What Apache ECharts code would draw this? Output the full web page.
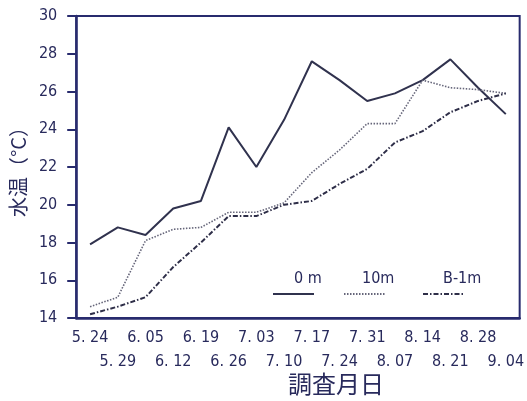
<!DOCTYPE html>
<html>
<head>
<meta charset="utf-8">
<script src="https://cdn.jsdelivr.net/npm/echarts@6/dist/echarts.min.js"></script>
<style>
  html, body { margin: 0; padding: 0; background: #ffffff; }
  #chart { width: 527px; height: 401px; }
</style>
</head>
<body>
<div id="chart"></div>
<script>
// Survey dates (month.day)
const dates = ['5. 24', '5. 29', '6. 05', '6. 12', '6. 19', '6. 26', '7. 03', '7. 10',
               '7. 17', '7. 24', '7. 31', '8. 07', '8. 14', '8. 21', '8. 28', '9. 04'];

// Water temperature (°C) by depth
const temp0m  = [17.9, 18.8, 18.4, 19.8, 20.2, 24.1, 22.0, 24.5, 27.6, 26.6, 25.5, 25.9, 26.6, 27.7, 26.2, 24.8];
const temp10m = [14.6, 15.1, 18.1, 18.7, 18.8, 19.6, 19.6, 20.1, 21.7, 22.9, 24.3, 24.3, 26.6, 26.2, 26.1, 25.9];
const tempB1m = [14.2, 14.6, 15.1, 16.7, 18.0, 19.4, 19.4, 20.0, 20.2, 21.1, 21.9, 23.3, 23.9, 24.9, 25.5, 25.9];

// Y-axis ticks
const yMin = 14, yMax = 30, yStep = 2;

const seriesNames = ['0 m', '10m', 'B-1m'];

const navy = '#282b6e';
const textColor = '#282a5c';
const font = "'Liberation Sans Narrow', 'DejaVu Sans Condensed', 'Liberation Sans', sans-serif";

const chart = echarts.init(document.getElementById('chart'), null, { renderer: 'canvas' });

const lineStyles = [
  { color: '#30324e', width: 2, type: 'solid' },
  { color: '#66667a', width: 1.6, type: [1.5, 1.5] },
  { color: '#2e2e48', width: 2, type: [5, 2, 1.5, 2] }
];

// Legend drawn as label above a short line sample
const legendItems = [
  { cx: 294, x1: 273, x2: 314 },
  { cx: 362, x1: 344, x2: 385 },
  { cx: 443, x1: 423, x2: 463 }
];
const legendGraphics = [];
legendItems.forEach((it, i) => {
  legendGraphics.push({
    type: 'text', left: it.cx, top: 271,
    style: { text: seriesNames[i], fill: textColor, font: '16px ' + font, textAlign: 'center' }
  });
  legendGraphics.push({
    type: 'line',
    shape: { x1: it.x1, y1: 294, x2: it.x2, y2: 294 },
    style: { stroke: lineStyles[i].color, lineWidth: 2, lineDash: i === 0 ? null : lineStyles[i].type }
  });
});

chart.setOption({
  animation: false,
  backgroundColor: '#ffffff',
  grid: {
    left: 76, right: 4, top: 16, bottom: 83,
    show: true, borderColor: navy, borderWidth: 2, backgroundColor: 'transparent'
  },
  xAxis: {
    type: 'category',
    data: dates,
    boundaryGap: true,
    axisLine: { lineStyle: { color: navy, width: 2.5 } },
    axisTick: { alignWithLabel: true, length: 7, lineStyle: { color: navy, width: 2 } },
    axisLabel: {
      interval: 0,
      color: textColor,
      fontFamily: font,
      fontSize: 16,
      lineHeight: 24,
      margin: 8,
      formatter: (v, i) => (i % 2 === 1 ? '\n' + v : v)
    },
    splitLine: { show: false }
  },
  yAxis: {
    type: 'value',
    min: yMin, max: yMax, interval: yStep,
    axisLine: { show: true, lineStyle: { color: navy, width: 2.5 } },
    axisTick: { show: true, length: 9, lineStyle: { color: navy, width: 2 } },
    axisLabel: { color: textColor, fontFamily: font, fontSize: 16, margin: 19 },
    splitLine: { show: false },
    name: '水温（°C）',
    nameLocation: 'middle',
    nameRotate: 90,
    nameGap: 46,
    nameTextStyle: { color: textColor, fontSize: 20, fontFamily: "'Noto Sans CJK JP', sans-serif" }
  },
  graphic: [
    {
      type: 'text', left: 288, top: 372,
      style: { text: '調査月日', fill: textColor, font: "24px 'Noto Sans CJK JP', sans-serif", textAlign: 'center' }
    }
  ].concat(legendGraphics),
  series: [temp0m, temp10m, tempB1m].map((d, i) => ({
    name: seriesNames[i],
    type: 'line',
    data: d,
    symbol: 'none',
    lineStyle: lineStyles[i]
  }))
});
</script>
</body>
</html>
